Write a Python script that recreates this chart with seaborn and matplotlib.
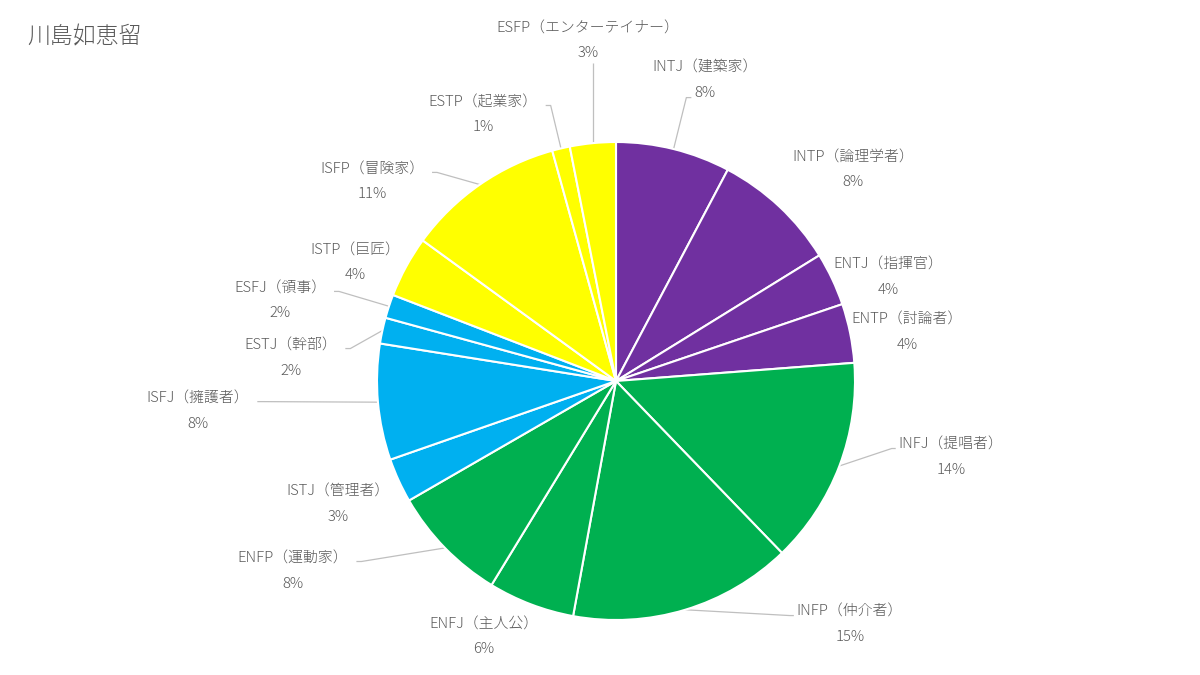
import matplotlib
matplotlib.use("Agg")
import matplotlib.pyplot as plt
import numpy as np
import seaborn as sns

# ---- data ----
types = ["INTJ", "INTP", "ENTJ", "ENTP", "INFJ", "INFP", "ENFJ", "ENFP",
         "ISTJ", "ISFJ", "ESTJ", "ESFJ", "ISTP", "ISFP", "ESTP", "ESFP"]
names = ["建築家", "論理学者", "指揮官", "討論者", "提唱者", "仲介者", "主人公", "運動家",
         "管理者", "擁護者", "幹部", "領事", "巨匠", "冒険家", "起業家", "エンターテイナー"]
values = [7.75, 8.45, 3.6, 4.0, 14.0, 15.1, 5.85, 7.95,
          3.0, 7.85, 1.75, 1.6, 4.15, 10.7, 1.2, 3.1]
groups = ["NT", "NT", "NT", "NT", "NF", "NF", "NF", "NF",
          "SJ", "SJ", "SJ", "SJ", "SP", "SP", "SP", "SP"]
title = "川島如恵留"

# ---- style / layout ----
palette = {"NT": "#7030A0", "NF": "#00B050", "SJ": "#00B0F0", "SP": "#FFFF00"}
# label block centres, in pie-radius units (layout only)
label_pos = [(0.372, 1.259), (0.992, 0.883), (1.138, 0.435), (1.218, 0.205),
             (1.402, -0.318), (0.979, -1.017), (-0.552, -1.071), (-1.351, -0.795),
             (-1.163, -0.515), (-1.749, -0.126), (-1.360, 0.096), (-1.406, 0.335),
             (-1.092, 0.494), (-1.021, 0.833), (-0.556, 1.113), (-0.117, 1.423)]
# leader line attachment: L=left of name, R=right of name, Lp=left of pct, B=bottom, None
leader = ["Lp", None, None, None, "L", "L", None, "R",
          None, "R", "R", "R", None, "R", "R", "B"]

W, H = 1200, 675
CX, CY, RPX = 616, 381, 239
TEXT_C = "#595959"
LINE_C = "#BFBFBF"

sns.set_theme(style="white")
plt.rcParams["font.family"] = ["Noto Sans CJK JP", "DejaVu Sans"]

fig = plt.figure(figsize=(W / 100, H / 100), dpi=100)
fig.patch.set_facecolor("white")
ax = fig.add_axes([0, 0, 1, 1])
colors = [palette[g] for g in groups]
wedges, _ = ax.pie(values, colors=colors, startangle=90, counterclock=False,
                   wedgeprops=dict(edgecolor="white", linewidth=1.5))
ax.set_aspect("auto")
ax.set_xlim(-CX / RPX, (W - CX) / RPX)
ax.set_ylim(-(H - CY) / RPX, CY / RPX)
ax.axis("off")

px = 1.0 / RPX
total = sum(values)
name_txt, pct_txt = [], []
for t, n, v, (lx, ly) in zip(types, names, values, label_pos):
    a = ax.text(lx, ly + 12.5 * px, f"{t}（{n}）", ha="center", va="center",
                fontsize=10.7, color=TEXT_C, fontweight="light")
    b = ax.text(lx, ly - 12.5 * px, f"{v / total * 100:.0f}%", ha="center", va="center",
                fontsize=10.7, color=TEXT_C, fontweight="light")
    name_txt.append(a)
    pct_txt.append(b)

fig.canvas.draw()
renderer = fig.canvas.get_renderer()
inv = ax.transData.inverted()


def bbox_data(t):
    bb = t.get_window_extent(renderer)
    (x0, y0), (x1, y1) = inv.transform([(bb.x0, bb.y0), (bb.x1, bb.y1)])
    return x0, y0, x1, y1


for w, mode, a, b in zip(wedges, leader, name_txt, pct_txt):
    if mode is None:
        continue
    mid = np.deg2rad((w.theta1 + w.theta2) / 2)
    sx, sy = np.cos(mid), np.sin(mid)
    nx0, ny0, nx1, ny1 = bbox_data(a)
    px0, py0, px1, py1 = bbox_data(b)
    if mode == "L":
        ey = (ny0 + ny1) / 2 - 4 * px
        ex = nx0 - 3 * px
        xs, ys = [sx, ex - 4 * px, ex], [sy, ey, ey]
    elif mode == "R":
        ey = (ny0 + ny1) / 2 - 3 * px
        ex = nx1 + 8 * px
        xs, ys = [sx, ex + 5 * px, ex], [sy, ey, ey]
    elif mode == "Lp":
        ey = (py0 + py1) / 2 - 5 * px
        ex = px0 - 3 * px
        xs, ys = [sx, ex - 5 * px, ex], [sy, ey, ey]
    else:  # bottom
        xs, ys = [sx, sx], [sy, py0 - 3 * px]
    ax.plot(xs, ys, color=LINE_C, lw=0.9, solid_capstyle="butt", zorder=0.5)

fig.text(27 / W, 1 - 37 / H, title, ha="left", va="center", fontsize=16.5,
         color=TEXT_C, fontweight="light")

fig.savefig("out.png", dpi=100, facecolor="white")
